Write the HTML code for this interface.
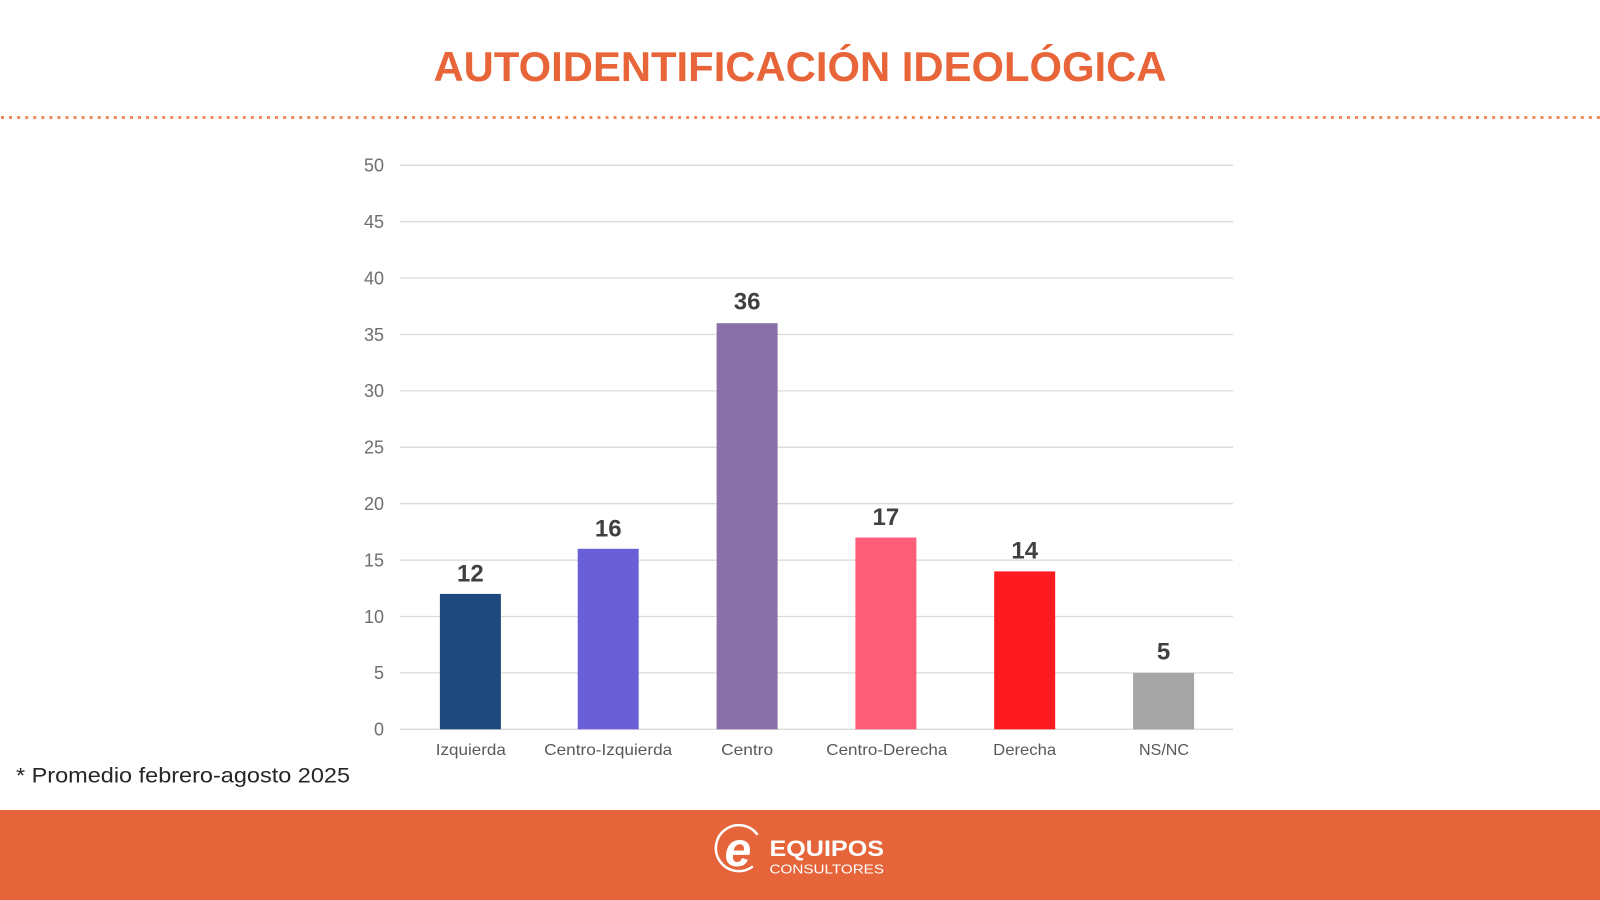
<!DOCTYPE html>
<html>
<head>
<meta charset="utf-8">
<style>
  html, body { margin:0; padding:0; background:#ffffff; }
  body { width:1600px; height:900px; overflow:hidden; }
  svg { display:block; }
  text { font-family: "Liberation Sans", "DejaVu Sans", sans-serif; }
</style>
</head>
<body>
<svg width="1600" height="900" viewBox="0 0 1600 900" xmlns="http://www.w3.org/2000/svg">
  <rect x="0" y="0" width="1600" height="900" fill="#ffffff"/>

  <!-- Title -->
  <text x="800" y="81" text-anchor="middle" font-size="42" font-weight="bold" fill="#E8653A" textLength="733" lengthAdjust="spacingAndGlyphs">AUTOIDENTIFICACIÓN IDEOLÓGICA</text>

  <!-- Dotted separator -->
  <line x1="1" y1="117.5" x2="1600" y2="117.5" stroke="#EE8A5E" stroke-width="3" stroke-dasharray="3 5.06"/>

  <!-- Gridlines -->
  <g stroke="#DADADA" stroke-width="1.3">
    <line x1="400" y1="729.3" x2="1233" y2="729.3"/>
    <line x1="400" y1="672.9" x2="1233" y2="672.9"/>
    <line x1="400" y1="616.5" x2="1233" y2="616.5"/>
    <line x1="400" y1="560.1" x2="1233" y2="560.1"/>
    <line x1="400" y1="503.7" x2="1233" y2="503.7"/>
    <line x1="400" y1="447.3" x2="1233" y2="447.3"/>
    <line x1="400" y1="390.9" x2="1233" y2="390.9"/>
    <line x1="400" y1="334.5" x2="1233" y2="334.5"/>
    <line x1="400" y1="278.1" x2="1233" y2="278.1"/>
    <line x1="400" y1="221.7" x2="1233" y2="221.7"/>
    <line x1="400" y1="165.3" x2="1233" y2="165.3"/>
  </g>

  <!-- Y axis labels -->
  <g font-size="18" fill="#6E6E6E" text-anchor="end">
    <text x="384" y="735.6">0</text>
    <text x="384" y="679.2">5</text>
    <text x="384" y="622.8">10</text>
    <text x="384" y="566.4">15</text>
    <text x="384" y="510.0">20</text>
    <text x="384" y="453.6">25</text>
    <text x="384" y="397.2">30</text>
    <text x="384" y="340.8">35</text>
    <text x="384" y="284.4">40</text>
    <text x="384" y="228.0">45</text>
    <text x="384" y="171.6">50</text>
  </g>

  <!-- Bars -->
  <rect x="439.9" y="593.9" width="61" height="135.4" fill="#1F497D"/>
  <rect x="577.7" y="548.8" width="61" height="180.5" fill="#6A5FD7"/>
  <rect x="716.6" y="323.2" width="61" height="406.1" fill="#8970A8"/>
  <rect x="855.4" y="537.5" width="61" height="191.8" fill="#FE5E7A"/>
  <rect x="994.2" y="571.4" width="61" height="157.9" fill="#FE1B1F"/>
  <rect x="1133.1" y="672.9" width="61" height="56.4" fill="#A6A6A6"/>

  <!-- Value labels -->
  <g font-size="24" font-weight="bold" fill="#404040" text-anchor="middle">
    <text x="470.4" y="581.5">12</text>
    <text x="608.2" y="536.3">16</text>
    <text x="747.1" y="309.5">36</text>
    <text x="885.9" y="524.8">17</text>
    <text x="1024.7" y="558.7">14</text>
    <text x="1163.6" y="659.5">5</text>
  </g>

  <!-- Category labels -->
  <g font-size="16" fill="#595959" text-anchor="middle">
    <text x="470.8" y="755" textLength="70" lengthAdjust="spacingAndGlyphs">Izquierda</text>
    <text x="608.2" y="755" textLength="128" lengthAdjust="spacingAndGlyphs">Centro-Izquierda</text>
    <text x="747.1" y="755" textLength="52" lengthAdjust="spacingAndGlyphs">Centro</text>
    <text x="886.8" y="755" textLength="121" lengthAdjust="spacingAndGlyphs">Centro-Derecha</text>
    <text x="1024.7" y="755" textLength="63" lengthAdjust="spacingAndGlyphs">Derecha</text>
    <text x="1164" y="755" textLength="50" lengthAdjust="spacingAndGlyphs">NS/NC</text>
  </g>

  <!-- Footnote -->
  <text x="16" y="782.3" font-size="21.5" fill="#262626" textLength="334" lengthAdjust="spacingAndGlyphs">* Promedio febrero-agosto 2025</text>

  <!-- Footer -->
  <rect x="0" y="810" width="1600" height="90" fill="#E5643A"/>

  <!-- Logo -->
  <path d="M 757 834 A 23 23 0 1 0 752 867" fill="none" stroke="#ffffff" stroke-width="2.5" stroke-linecap="round"/>
  <text x="738" y="866" text-anchor="middle" font-family="Liberation Serif, serif" font-style="italic" font-weight="bold" font-size="48" fill="#ffffff">e</text>
  <text x="769.5" y="856" font-size="22" font-weight="bold" fill="#ffffff" textLength="114.5" lengthAdjust="spacingAndGlyphs">EQUIPOS</text>
  <text x="769.5" y="873.3" font-size="13" fill="#ffffff" textLength="114.5" lengthAdjust="spacingAndGlyphs">CONSULTORES</text>
</svg>
</body>
</html>
